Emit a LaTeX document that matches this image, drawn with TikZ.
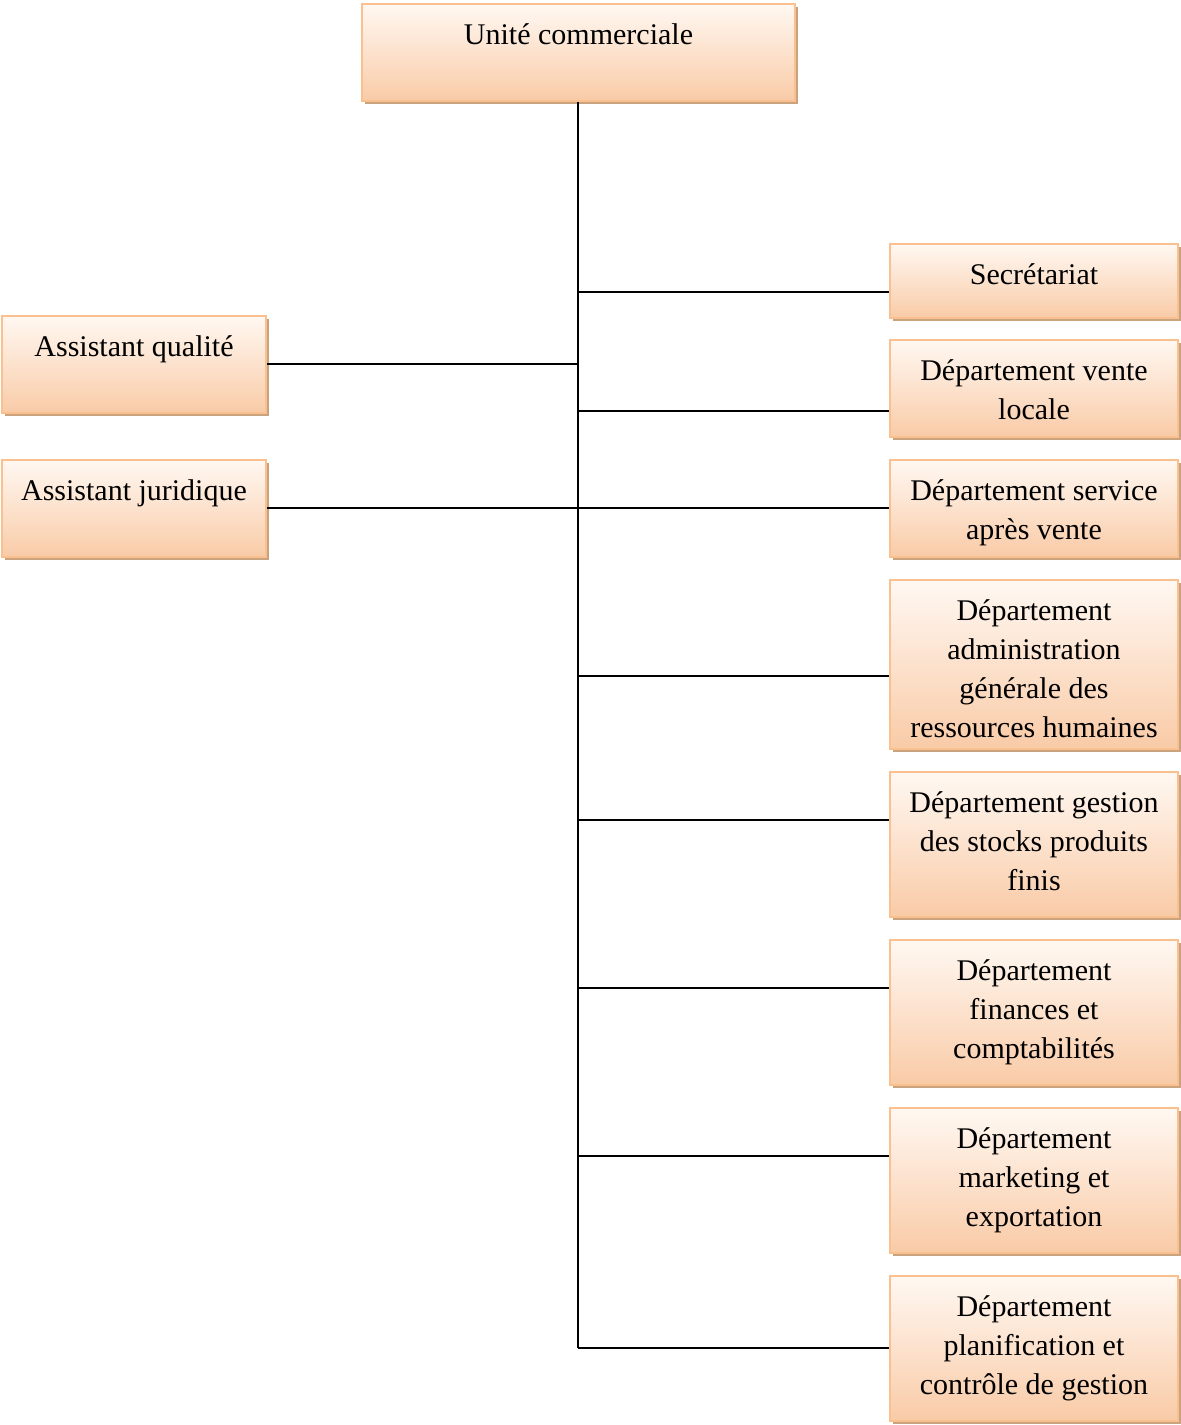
\documentclass[tikz,border=0pt]{standalone}
\usepackage{fontspec}
\setmainfont{Liberation Serif}
\usetikzlibrary{shadows}
\definecolor{peachtop}{RGB}{255,248,242}
\definecolor{peachbot}{RGB}{249,203,167}
\definecolor{peachline}{RGB}{250,192,144}
\definecolor{shadowtan}{RGB}{201,162,126}
\newcommand{\boxtext}[3]{\parbox[c][#2pt][t]{#1pt}{\centering\vspace*{13pt}\strut #3\par}}
\tikzset{
	orgunit/.style={draw=peachline, line width=1.6pt, inner sep=0pt,
		top color=peachtop, bottom color=peachbot,
		drop shadow={shadow xshift=3pt, shadow yshift=-3pt, fill=shadowtan, opacity=1},
		font=\fontsize{30}{39}\selectfont},
	wire/.style={line width=1.6pt}
}
\begin{document}
\begin{tikzpicture}[x=1pt, y=-1pt]
	\useasboundingbox (0,0) rectangle (1181,1425);
	% Boxes:
	\node[orgunit] (uc) at (578.5, 52.5) {\boxtext{433}{97}{Unité commerciale}};
	\node[orgunit] (sec) at (1034, 281) {\boxtext{288}{74}{Secrétariat}};
	\node[orgunit] (dvl) at (1034, 388.5) {\boxtext{288}{97}{Département vente\\ locale}};
	\node[orgunit] (dsav) at (1034, 508.5) {\boxtext{288}{97}{Département service\\ après vente}};
	\node[orgunit] (drh) at (1034, 664.5) {\boxtext{288}{169}{Département\\ administration\\ générale des\\ ressources humaines}};
	\node[orgunit] (dstk) at (1034, 844.5) {\boxtext{288}{145}{Département gestion\\ des stocks produits\\ finis}};
	\node[orgunit] (dfin) at (1034, 1012.5) {\boxtext{288}{145}{Département\\ finances et\\ comptabilités}};
	\node[orgunit] (dmkt) at (1034, 1180.5) {\boxtext{288}{145}{Département\\ marketing et\\ exportation}};
	\node[orgunit] (dpcg) at (1034, 1348.5) {\boxtext{288}{145}{Département\\ planification et\\ contrôle de gestion}};
	\node[orgunit] (aq) at (134, 364.5) {\boxtext{264}{97}{Assistant qualité}};
	\node[orgunit] (aj) at (134, 508.5) {\boxtext{264}{97}{Assistant juridique}};
	% Junctions on the trunk:
	\coordinate (t1) at (578, 292);
	\coordinate (t2) at (578, 364);
	\coordinate (t3) at (578, 411);
	\coordinate (t4) at (578, 508);
	\coordinate (t5) at (578, 676);
	\coordinate (t6) at (578, 820);
	\coordinate (t7) at (578, 988);
	\coordinate (t8) at (578, 1156);
	\coordinate (t9) at (578, 1348);
	% Wires:
	\draw[wire] (uc.south -| t1) -- (t9);
	\draw[wire] (t1) -- (t1 -| sec.west);
	\draw[wire] (aq.east |- t2) -- (t2);
	\draw[wire] (t3) -- (t3 -| dvl.west);
	\draw[wire] (aj.east |- t4) -- (t4 -| dsav.west);
	\draw[wire] (t5) -- (t5 -| drh.west);
	\draw[wire] (t6) -- (t6 -| dstk.west);
	\draw[wire] (t7) -- (t7 -| dfin.west);
	\draw[wire] (t8) -- (t8 -| dmkt.west);
	\draw[wire] (t9) -- (t9 -| dpcg.west);
\end{tikzpicture}
\end{document}
